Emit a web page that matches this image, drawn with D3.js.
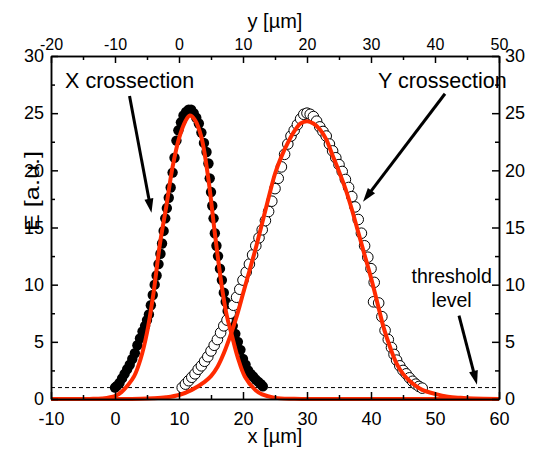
<!DOCTYPE html>
<html>
<head>
<meta charset="utf-8">
<script src="https://cdn.jsdelivr.net/npm/d3@7"></script>
<style>
  html, body { margin: 0; padding: 0; background: #fff; }
  svg { display: block; font-family: "Liberation Sans", Arial, sans-serif; }
</style>
</head>
<body>
<svg id="chart" width="542" height="452"></svg>
<script>
// X cross-section, measured points: [x (µm), E (a.u.)]
const xCrossPoints = [
  [0.0,1.0],[0.3,1.15],[0.7,1.4],[1.1,1.8],[1.5,2.2],[1.9,2.6],[2.3,3.0],[2.7,3.5],
  [3.1,4.0],[3.5,4.7],[3.9,5.3],[4.3,5.9],[4.7,6.4],[5.0,6.9],[5.3,7.4],[5.6,8.2],
  [5.9,9.1],[6.2,10.0],[6.5,10.8],[6.8,11.8],[7.1,12.7],[7.35,13.6],[7.6,14.7],[7.85,15.8],
  [8.1,16.7],[8.4,17.6],[8.7,18.5],[9.0,19.8],[9.3,21.1],[9.6,22.6],[9.9,23.5],[10.3,24.2],
  [10.7,24.8],[11.1,25.1],[11.5,25.3],[11.9,25.3],[12.3,25.0],[12.7,24.6],[13.1,24.1],[13.5,23.3],
  [13.9,22.4],[14.3,21.6],[14.6,20.6],[14.8,19.3],[15.0,18.1],[15.2,16.9],[15.4,15.8],[15.6,14.5],
  [15.85,13.4],[16.1,12.5],[16.4,11.4],[16.7,10.4],[17.0,9.3],[17.3,8.5],[17.6,7.7],[18.0,7.0],
  [18.4,6.4],[18.8,5.7],[19.2,5.0],[19.6,4.3],[20.0,3.5],[20.4,3.0],[20.8,2.5],[21.2,2.2],
  [21.6,1.95],[22.0,1.7],[22.4,1.5],[22.8,1.3],[23.1,1.1]
];

// Gaussian fit of the X cross-section: [x (µm), E]
const xCrossFit = [
  [-10,0],[-4,0.01],[-2,0.05],[0,0.25],[1,0.6],[2,1.2],[3,2.0],[4,3.5],[5,5.8],[6,9.2],
  [7,13.5],[8,16.8],[9,20.3],[10,22.8],[11,24.3],[11.7,24.8],[12.5,24.4],[13.5,22.9],
  [14.6,19.2],[15.6,14.5],[16.7,9.8],[17.5,7.2],[18.2,5.7],[19.2,3.6],[20.3,1.95],[21.9,0.8],
  [23,0.4],[25,0.1],[28,0.02],[32,0],[60,0]
];

// Y cross-section, measured points: [y (µm), E (a.u.)]
const yCrossPoints = [
  [0.5,1.0],[1.0,1.3],[1.5,1.6],[2.0,1.9],[2.5,2.2],[3.0,2.6],[3.5,2.9],[4.0,3.3],
  [4.5,3.7],[5.0,4.2],[5.5,4.7],[6.0,5.2],[6.5,5.8],[7.0,6.4],[7.5,6.9],[8.0,7.5],
  [8.5,8.2],[9.0,8.9],[9.5,9.6],[10.0,10.4],[10.5,11.1],[11.0,11.8],[11.5,12.6],[12.0,13.4],
  [12.5,14.1],[13.0,14.8],[13.5,15.6],[14.0,16.4],[14.5,17.3],[15.0,18.4],[15.5,19.3],[16.0,20.3],
  [16.5,21.4],[17.0,22.3],[17.5,23.0],[18.0,23.5],[18.5,24.0],[19.0,24.5],[19.5,24.9],[20.0,25.0],
  [20.5,24.9],[21.0,24.7],[21.5,24.3],[22.0,23.8],[22.5,23.4],[23.0,23.0],[23.5,22.3],[24.0,21.7],
  [24.5,21.1],[25.0,20.5],[25.5,19.9],[26.0,19.2],[26.5,18.5],[27.0,17.7],[27.5,16.8],[28.0,15.7],
  [28.5,14.5],[29.0,13.4],[29.5,12.4],[30.0,11.4],[30.5,10.2],[30.4,8.5],[31.2,8.4],[31.7,7.2],
  [32.2,6.0],[32.7,5.2],[33.2,4.5],[33.6,3.9],[34.0,3.4],[34.5,2.9],[35.0,2.5],[35.5,2.2],
  [36.0,1.85],[36.5,1.55],[37.0,1.3],[37.5,1.1],[38.0,0.95]
];

// Gaussian fit of the Y cross-section: [y (µm), E]
const yCrossFit = [
  [-20,0],[-10,0],[-6,0.02],[-4,0.06],[-2,0.15],[0,0.35],[2,0.8],[4,1.5],[5,2.0],[6,2.8],
  [7,4.0],[8,5.5],[9,7.2],[10,9.2],[11,11.2],[12,13.2],[13,15.4],[14,17.6],[15,19.7],
  [16,21.2],[17,22.4],[18,23.4],[19,24.1],[20,24.3],[21,24.1],[22,23.6],[23,22.7],[24,21.3],
  [25,19.9],[26,18.4],[27,16.6],[28,14.6],[29,12.6],[30,10.6],[31,8.4],[32,6.2],[33,4.5],
  [34,3.1],[35,2.2],[36,1.6],[37,1.15],[38,0.8],[40,0.45],[42,0.2],[44,0.1],[46,0.04],[50,0]
];

const thresholdLevel = 1;

// Axis ticks
const xTicks = [-10, 0, 10, 20, 30, 40, 50, 60];
const xMinorTicks = [-5, 5, 15, 25, 35, 45, 55];
const yTopTicks = [-20, -10, 0, 10, 20, 30, 40, 50];
const yTopMinorTicks = [-15, -5, 5, 15, 25, 35, 45];
const eTicks = [0, 5, 10, 15, 20, 25, 30];
const eMinorTicks = [2.5, 7.5, 12.5, 17.5, 22.5, 27.5];

const svg = d3.select("#chart");
const m = { left: 51, right: 499, top: 56, bottom: 399 };
const fitColor = "#ff2a00";
const plainNumber = d => String(d);

const x = d3.scaleLinear().domain([-10, 60]).range([m.left, m.right]);
const yTop = d3.scaleLinear().domain([-20, 50]).range([m.left, m.right]);
const e = d3.scaleLinear().domain([0, 30]).range([m.bottom, m.top]);

// threshold line
svg.append("line")
  .attr("x1", m.left).attr("x2", m.right)
  .attr("y1", e(thresholdLevel)).attr("y2", e(thresholdLevel))
  .attr("stroke", "#000").attr("stroke-width", 1)
  .attr("stroke-dasharray", "4,3");

// X cross-section markers (filled)
svg.append("g").selectAll("circle")
  .data(xCrossPoints).join("circle")
  .attr("cx", d => x(d[0])).attr("cy", d => e(d[1]))
  .attr("r", 5.2).attr("fill", "#000");

// Y cross-section markers (open)
svg.append("g").selectAll("circle")
  .data(yCrossPoints).join("circle")
  .attr("cx", d => yTop(d[0])).attr("cy", d => e(d[1]))
  .attr("r", 5.3).attr("fill", "#fff")
  .attr("stroke", "#000").attr("stroke-width", 1);

// fit curves
const lineX = d3.line().x(d => x(d[0])).y(d => e(d[1])).curve(d3.curveCatmullRom);
const lineY = d3.line().x(d => yTop(d[0])).y(d => e(d[1])).curve(d3.curveCatmullRom);
svg.append("path").datum(xCrossFit).attr("d", lineX)
  .attr("fill", "none").attr("stroke", fitColor).attr("stroke-width", 4);
svg.append("path").datum(yCrossFit).attr("d", lineY)
  .attr("fill", "none").attr("stroke", fitColor).attr("stroke-width", 4);

// axes
function styleAxis(g, size) {
  g.select(".domain").attr("stroke", "#000").attr("stroke-width", 1.5);
  g.selectAll(".tick line").attr("stroke", "#000").attr("stroke-width", 1.5);
  g.selectAll(".tick text").attr("fill", "#000").style("font-size", size + "px")
    .style("font-family", "'Liberation Sans', Arial, sans-serif");
}
function minor(axisGen, tickVals) {
  return axisGen.tickValues(tickVals).tickSize(-4).tickSizeOuter(0).tickFormat("");
}

const gB = svg.append("g").attr("transform", `translate(0,${m.bottom})`)
  .call(d3.axisBottom(x).tickValues(xTicks).tickFormat(plainNumber)
    .tickSize(-7).tickSizeOuter(0).tickPadding(13));
styleAxis(gB, 18);
svg.append("g").attr("transform", `translate(0,${m.bottom})`)
  .call(minor(d3.axisBottom(x), xMinorTicks)).call(g => styleAxis(g, 18));

const gT = svg.append("g").attr("transform", `translate(0,${m.top})`)
  .call(d3.axisTop(yTop).tickValues(yTopTicks).tickFormat(plainNumber)
    .tickSize(-7).tickSizeOuter(0).tickPadding(6));
styleAxis(gT, 16);
svg.append("g").attr("transform", `translate(0,${m.top})`)
  .call(minor(d3.axisTop(yTop), yTopMinorTicks)).call(g => styleAxis(g, 16));

const gL = svg.append("g").attr("transform", `translate(${m.left},0)`)
  .call(d3.axisLeft(e).tickValues(eTicks).tickFormat(plainNumber)
    .tickSize(-7).tickSizeOuter(0).tickPadding(7));
styleAxis(gL, 18);
svg.append("g").attr("transform", `translate(${m.left},0)`)
  .call(minor(d3.axisLeft(e), eMinorTicks)).call(g => styleAxis(g, 18));

const gR = svg.append("g").attr("transform", `translate(${m.right},0)`)
  .call(d3.axisRight(e).tickValues(eTicks).tickFormat(plainNumber)
    .tickSize(-7).tickSizeOuter(0).tickPadding(6));
styleAxis(gR, 18);
svg.append("g").attr("transform", `translate(${m.right},0)`)
  .call(minor(d3.axisRight(e), eMinorTicks)).call(g => styleAxis(g, 18));

// axis titles
svg.append("text").attr("x", (m.left + m.right) / 2).attr("y", 443)
  .attr("text-anchor", "middle").style("font-size", "20px").text("x [µm]");
svg.append("text").attr("x", (m.left + m.right) / 2).attr("y", 28)
  .attr("text-anchor", "middle").style("font-size", "20px").text("y [µm]");
svg.append("text").attr("transform", "translate(39,191) rotate(-90)")
  .attr("text-anchor", "middle").style("font-size", "20px")
  .attr("textLength", 80).attr("lengthAdjust", "spacingAndGlyphs")
  .text("E [a.u.]");

// annotations, positioned in data units
const labels = [
  { text: "X crossection", at: [-7.8, 27.2], anchor: "start", size: 21.5 },
  { text: "Y crossection", at: [41.1, 27.2], anchor: "start", size: 21.5 },
  { text: "threshold", at: [52.6, 10.15], anchor: "middle", size: 19.5 },
  { text: "level", at: [52.6, 8.05], anchor: "middle", size: 19.5 }
];
svg.append("g").selectAll("text").data(labels).join("text")
  .attr("x", d => x(d.at[0])).attr("y", d => e(d.at[1]))
  .attr("text-anchor", d => d.anchor)
  .style("font-size", d => d.size + "px")
  .text(d => d.text);

const arrows = [
  { from: [2.27, 26.5], to: [5.7, 16.3] },
  { from: [51.56, 26.7], to: [38.75, 17.25] },
  { from: [53.75, 7.3], to: [56.56, 1.25] }
];
const ag = svg.append("g");
arrows.forEach(a => {
  const x1 = x(a.from[0]), y1 = e(a.from[1]);
  const x2 = x(a.to[0]), y2 = e(a.to[1]);
  const len = Math.hypot(x2 - x1, y2 - y1);
  const ux = (x2 - x1) / len, uy = (y2 - y1) / len;
  const headLen = 14, headHalf = 4.5;
  const bx = x2 - ux * headLen, by = y2 - uy * headLen;
  ag.append("line").attr("x1", x1).attr("y1", y1).attr("x2", bx + ux * 2).attr("y2", by + uy * 2)
    .attr("stroke", "#000").attr("stroke-width", 3);
  ag.append("path")
    .attr("d", `M${x2},${y2}L${bx - uy * headHalf},${by + ux * headHalf}L${bx + uy * headHalf},${by - ux * headHalf}Z`)
    .attr("fill", "#000");
});
</script>
</body>
</html>
